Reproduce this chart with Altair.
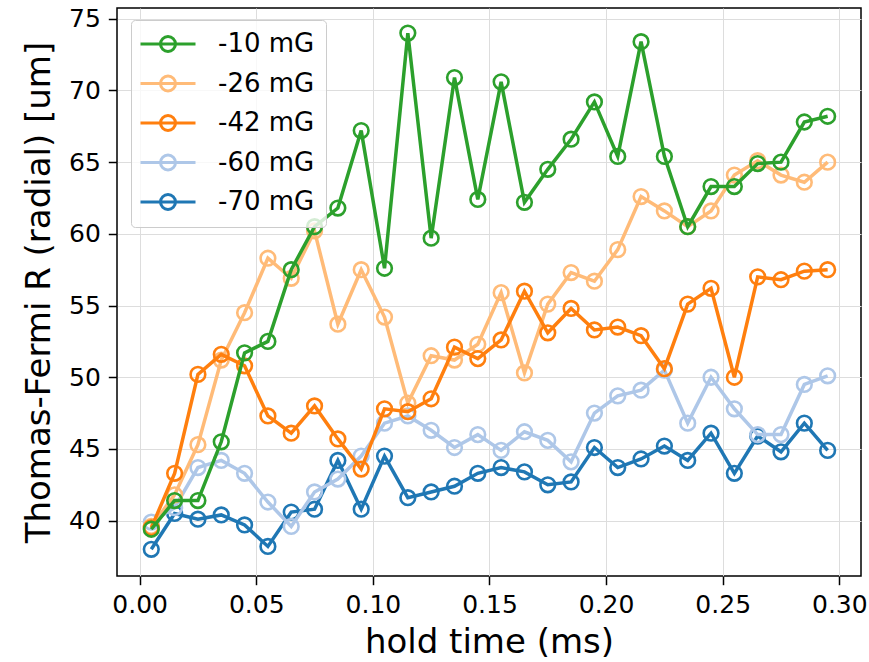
import altair as alt
import pandas as pd

# hold time (ms)
hold_time = [0.005, 0.015, 0.025, 0.035, 0.045, 0.055, 0.065, 0.075, 0.085, 0.095,
             0.105, 0.115, 0.125, 0.135, 0.145, 0.155, 0.165, 0.175, 0.185, 0.195,
             0.205, 0.215, 0.225, 0.235, 0.245, 0.255, 0.265, 0.275, 0.285, 0.295]

series_labels = ["-10 mG", "-26 mG", "-42 mG", "-60 mG", "-70 mG"]
series_colors = ["#2ca02c", "#ffbb78", "#ff7f0e", "#aec7e8", "#1f77b4"]

r_m10 = [39.4, 41.4, 41.4, 45.5, 51.7, 52.5, 57.5, 60.5, 61.8, 67.2,
         57.6, 74.0, 59.7, 70.9, 62.4, 70.6, 62.2, 64.5, 66.6, 69.2,
         65.4, 73.4, 65.4, 60.5, 63.3, 63.3, 64.9, 65.0, 67.8, 68.2]
r_m26 = [39.6, 41.8, 45.3, 51.2, 54.5, 58.3, 56.9, 60.2, 53.7, 57.5,
         54.2, 48.2, 51.5, 51.2, 52.3, 55.9, 50.3, 55.1, 57.3, 56.7,
         58.9, 62.6, 61.6, 60.5, 61.6, 64.1, 65.1, 64.1, 63.6, 65.0]
r_m42 = [39.5, 43.3, 50.2, 51.6, 50.8, 47.3, 46.1, 48.0, 45.7, 43.6,
         47.8, 47.6, 48.5, 52.1, 51.3, 52.6, 56.0, 53.1, 54.8, 53.3,
         53.5, 52.9, 50.6, 55.1, 56.2, 50.0, 57.0, 56.8, 57.4, 57.5]
r_m60 = [39.9, 40.9, 43.7, 44.2, 43.3, 41.3, 39.6, 42.0, 42.9, 44.5,
         46.8, 47.3, 46.3, 45.1, 46.0, 44.9, 46.2, 45.6, 44.1, 47.5,
         48.7, 49.1, 50.5, 46.8, 50.0, 47.8, 46.0, 46.0, 49.5, 50.1]
r_m70 = [38.0, 40.5, 40.1, 40.4, 39.7, 38.2, 40.6, 40.8, 44.2, 40.8,
         44.5, 41.6, 42.0, 42.4, 43.3, 43.7, 43.4, 42.5, 42.7, 45.1,
         43.7, 44.3, 45.2, 44.2, 46.1, 43.3, 45.9, 44.8, 46.8, 44.9]

x_ticks = [0.0, 0.05, 0.10, 0.15, 0.20, 0.25, 0.30]
y_ticks = [40, 45, 50, 55, 60, 65, 70, 75]

values = {"-10 mG": r_m10, "-26 mG": r_m26, "-42 mG": r_m42,
          "-60 mG": r_m60, "-70 mG": r_m70}

FONT = "DejaVu Sans"
LEG_PATH = "M-2.75,0L2.75,0M0.75,0A0.75,0.75,0,1,1,-0.75,0A0.75,0.75,0,1,1,0.75,0"

color_scale = alt.Scale(domain=series_labels, range=series_colors)
x_scale = alt.Scale(domain=[-0.0097, 0.3093], nice=False, zero=False)
y_scale = alt.Scale(domain=[36.14, 75.75], nice=False, zero=False)

x_axis = alt.Axis(values=x_ticks, format=".2f", title="hold time (ms)")
y_axis = alt.Axis(values=y_ticks, format="d", title="Thomas-Fermi R (radial) [um]")

legend = alt.Legend(
    title=None, orient="none", legendX=14, legendY=12,
    symbolType=LEG_PATH, symbolSize=400, symbolStrokeWidth=3,
    symbolOffset=13, labelOffset=37,
    labelFontSize=26, labelFont=FONT, labelColor="black",
    rowPadding=11.5, padding=11,
    fillColor="rgba(255,255,255,0.8)", strokeColor="#cccccc",
    cornerRadius=4,
)

draw_order = ["-70 mG", "-60 mG", "-26 mG", "-42 mG", "-10 mG"]
layers = []
for lab in draw_order:
    df = pd.DataFrame({"t": hold_time, "R": values[lab], "series": lab})
    base = alt.Chart(df).encode(
        x=alt.X("t:Q", scale=x_scale, axis=x_axis),
        y=alt.Y("R:Q", scale=y_scale, axis=y_axis),
        color=alt.Color("series:N", scale=color_scale, legend=legend,
                        sort=series_labels),
    )
    line = base.mark_line(strokeWidth=3.5)
    pts = base.mark_point(shape="circle", filled=False, size=215, strokeWidth=2.6,
                          opacity=1)
    layers += [line, pts]

chart = alt.layer(*layers).properties(
    width=744, height=568,
    autosize=alt.AutoSizeParams(type="none"),
    padding={"left": 117, "top": 8, "right": 8, "bottom": 86},
).configure_view(
    stroke="black", strokeWidth=1.5
).configure_axis(
    labelFont=FONT, titleFont=FONT, labelFontSize=25, titleFontSize=34,
    titleFontWeight="normal", labelColor="black", titleColor="black",
    domain=False, tickColor="black", tickWidth=1.5, tickSize=8.7,
    grid=True, gridColor="#dddddd", gridWidth=1,
    labelPadding=8,
).configure_axisY(
    titlePadding=12,
).configure_axisX(
    titlePadding=8,
)

chart.save("out.html", embed_options={"renderer": "svg", "actions": False})
